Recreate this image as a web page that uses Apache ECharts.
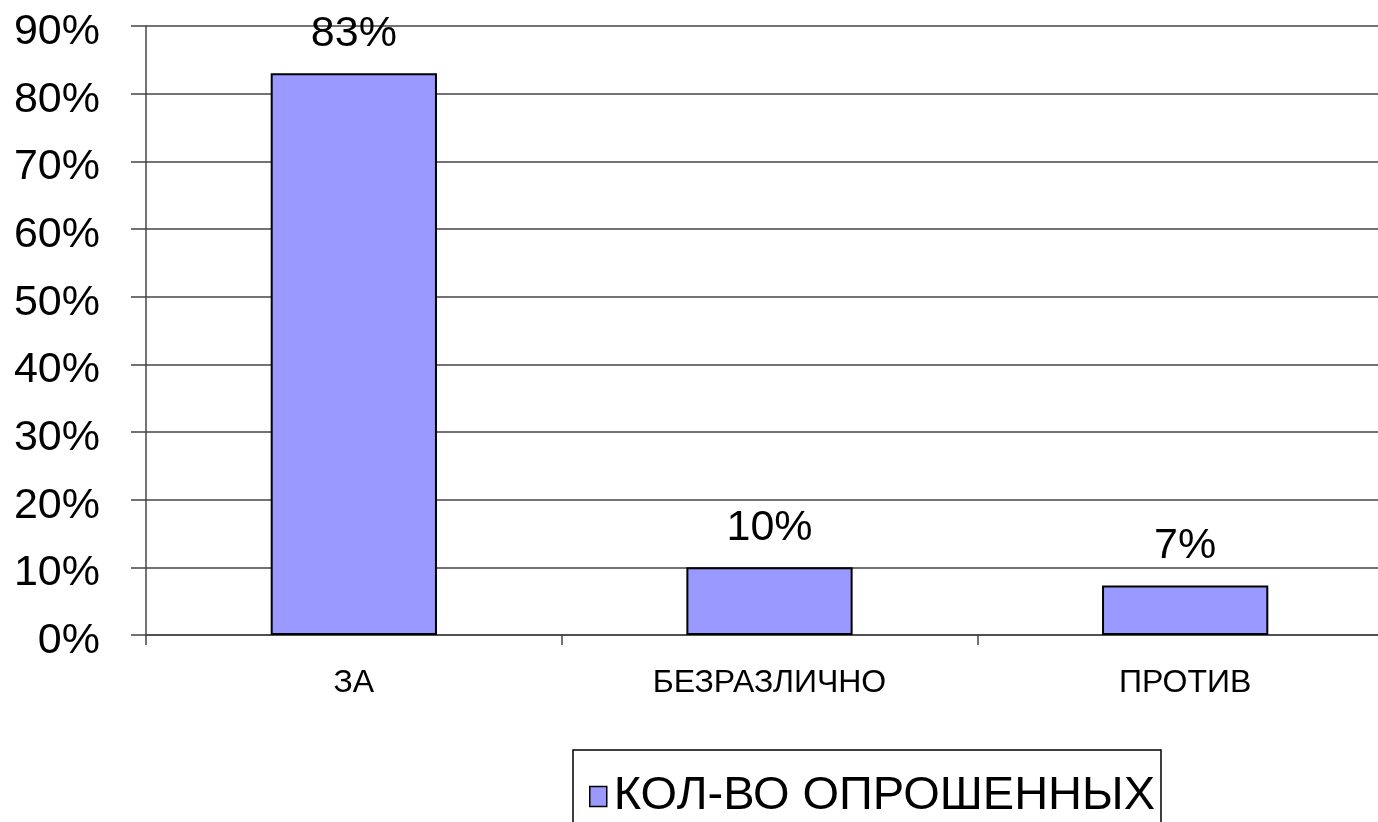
<!DOCTYPE html>
<html>
<head>
<meta charset="utf-8">
<script src="https://cdn.jsdelivr.net/npm/echarts@6/dist/echarts.min.js"></script>
<style>
html,body{margin:0;padding:0;background:#fff;}
#chart{width:1378px;height:822px;}
</style>
</head>
<body>
<div id="chart"></div>
<script>
const categories = ['ЗА', 'БЕЗРАЗЛИЧНО', 'ПРОТИВ'];
const seriesName = 'КОЛ-ВО ОПРОШЕННЫХ';
const values = [83, 10, 7.3];
const yMin = 0, yMax = 90, yInterval = 10;

const FONT = '"Liberation Sans", Arial, sans-serif';
const chart = echarts.init(document.getElementById('chart'), null, {renderer: 'canvas'});
chart.setOption({
  backgroundColor: '#ffffff',
  animation: false,
  grid: {left: 146, width: 1247, top: 26, height: 609, containLabel: false, outerBoundsMode: 'none'},
  legend: {
    left: 573, top: 750,
    padding: [23, 6, 60, 16],
    borderColor: '#000', borderWidth: 1.5,
    itemWidth: 17, itemHeight: 20, itemGap: 6,
    icon: 'rect',
    itemStyle: {color: '#9999ff', borderColor: '#000', borderWidth: 1.5},
    textStyle: {fontFamily: FONT, fontSize: 47, color: '#000', padding: [0, 0, 0, 2]},
    data: [seriesName]
  },
  xAxis: {
    type: 'category',
    data: categories,
    axisLine: {show: true, lineStyle: {color: '#444', width: 1.5}},
    axisTick: {show: true, length: 10, alignWithLabel: false, lineStyle: {color: '#444', width: 1.5}},
    axisLabel: {fontFamily: FONT, fontSize: 32, color: '#000', margin: 32},
    splitLine: {show: false}
  },
  yAxis: {
    type: 'value',
    min: yMin, max: yMax, interval: yInterval,
    axisLine: {show: true, lineStyle: {color: '#444', width: 1.5}},
    axisTick: {show: true, length: 15, lineStyle: {color: '#444', width: 1.5}},
    axisLabel: {
      fontFamily: FONT, fontSize: 43, color: '#000', margin: 46,
      formatter: v => '{a|' + v + '%}',
      rich: {a: {fontFamily: FONT, fontSize: 43, color: '#000', padding: [12, 0, 0, 0]}}
    },
    splitLine: {show: true, lineStyle: {color: '#444', width: 1.5}}
  },
  series: [{
    name: seriesName,
    type: 'bar',
    data: values,
    barWidth: '40%',
    itemStyle: {color: '#9999ff', borderColor: '#000', borderWidth: 2},
    label: {
      show: true, position: 'top', distance: 18,
      fontFamily: FONT, fontSize: 43, color: '#000',
      formatter: p => Math.round(p.value) + '%'
    }
  }]
});
</script>
</body>
</html>
